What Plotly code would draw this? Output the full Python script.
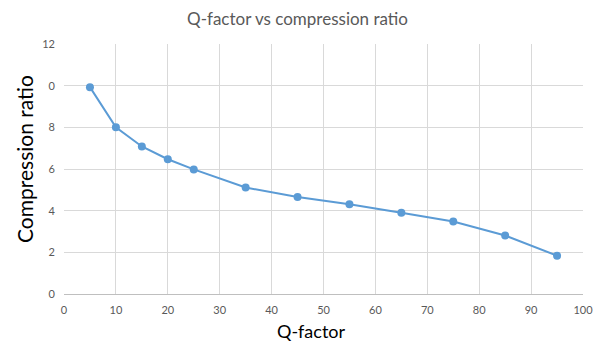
import plotly.graph_objects as go

q_factor = [5, 10, 15, 20, 25, 35, 45, 55, 65, 75, 85, 95]
compression_ratio = [9.93, 8.0, 7.08, 6.47, 5.98, 5.11, 4.66, 4.31, 3.9, 3.48, 2.81, 1.84]

x_ticks = [0, 10, 20, 30, 40, 50, 60, 70, 80, 90, 100]
y_ticks = [0, 2, 4, 6, 8, 10, 12]
y_tick_labels = ["0", "2", "4", "6", "8", "0", "12"]

line_color = "#5B9BD5"
grid_color = "#D9D9D9"
tick_color = "#595959"

fig = go.Figure()
fig.add_trace(go.Scatter(
    x=q_factor, y=compression_ratio, mode="lines+markers",
    line=dict(color=line_color, width=2),
    marker=dict(color=line_color, size=8),
    showlegend=False,
))

fig.update_layout(
    width=595, height=343,
    margin=dict(l=64, r=12, t=44, b=49),
    paper_bgcolor="white", plot_bgcolor="white",
    font=dict(family="Lato, Open Sans, sans-serif", color=tick_color),
    title=dict(text="Q-factor vs compression ratio", x=0.5, xanchor="center",
               y=1 - 19 / 343, yanchor="middle",
               font=dict(size=17, color=tick_color, family="Lato, Open Sans, sans-serif")),
    xaxis=dict(
        range=[0, 100], tickvals=x_ticks, ticktext=[str(v) for v in x_ticks],
        showgrid=True, gridcolor=grid_color, gridwidth=1,
        zeroline=False, showline=True, linecolor="#BFBFBF", linewidth=1,
        ticks="", tickfont=dict(size=11, color=tick_color),
        ticklabelstandoff=6, automargin=False,
    ),
    yaxis=dict(
        range=[0, 12], tickvals=y_ticks, ticktext=y_tick_labels,
        showgrid=True, gridcolor=grid_color, gridwidth=1,
        zeroline=False, showline=False,
        ticks="", tickfont=dict(size=11, color=tick_color),
        ticklabelstandoff=8, automargin=False,
    ),
    annotations=[
        dict(text="Q-factor", xref="paper", yref="paper",
             x=(311 - 64) / 519, y=-(331 - 294) / 250,
             xanchor="center", yanchor="middle", showarrow=False,
             font=dict(size=18, color="black")),
        dict(text="Compression ratio", xref="paper", yref="paper",
             x=-(64 - 24) / 519, y=(294 - 159) / 250, textangle=-90,
             xanchor="center", yanchor="middle", showarrow=False,
             font=dict(size=21, color="black")),
    ],
)

fig.write_html("out.html")
